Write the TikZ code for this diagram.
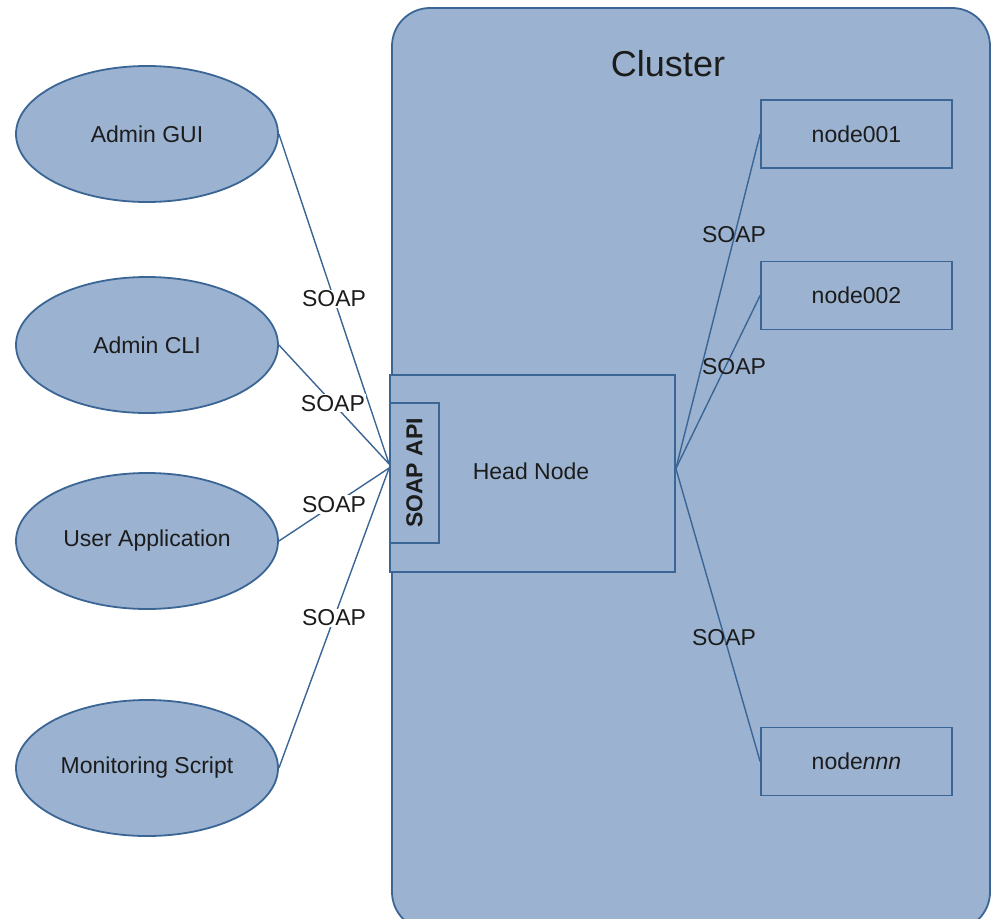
\documentclass[tikz,border=0pt]{standalone}
\usepackage{fontspec}
\setmainfont{Liberation Sans}
\usetikzlibrary{shapes.geometric}
\definecolor{boxfill}{HTML}{9BB3D1}
\definecolor{boxline}{HTML}{3A6595}
\definecolor{ink}{HTML}{1C1C1C}
\tikzset{
  base/.style={draw=boxline, fill=boxfill, line width=1.8pt, text=ink,
    font=\fontsize{23}{27}\selectfont, inner sep=0pt},
  client/.style={base, ellipse, minimum width=262pt, minimum height=136pt},
  worker/.style={base, rectangle, minimum width=191pt, minimum height=68pt},
  headbox/.style={base, rectangle, minimum width=285pt, minimum height=197pt},
  apibox/.style={base, rectangle, minimum width=49pt, minimum height=140pt},
  link/.style={draw=boxline, line width=1.4pt},
  soaplbl/.style={text=ink, font=\fontsize{23}{27}\selectfont, inner sep=1pt},
  soapcut/.style={soaplbl, fill=white},
}
\begin{document}
\begin{tikzpicture}[x=1pt, y=-1pt]
\useasboundingbox (0,0) rectangle (992,918);

% cluster enclosure
\draw[draw=boxline, fill=boxfill, line width=1.8pt, rounded corners=38pt]
  (392,8) rectangle (990,930);
\node[text=ink, font=\fontsize{36}{40}\selectfont] (title) at (668,64) {Cluster};

% head node with its API block
\node[headbox] (head) at (532.5,473.5) {};
\node[text=ink, font=\fontsize{23}{27}\selectfont] (headlbl) at (531,471) {Head Node};
\node[apibox] (api) at (414.5,473) {};
\node[text=ink, font=\bfseries\fontsize{23}{27}\selectfont, rotate=90] (apilbl) at (414.5,473) {SOAP API};

% compute nodes
\node[worker] (n1) at (856.5,134) {node001};
\node[worker] (n2) at (856.5,295.5) {node002};
\node[worker] (nn) at (856.5,761.5) {node\textit{nnn}};

% client programs
\node[client] (gui) at (147,134) {Admin GUI};
\node[client] (cli) at (147,345) {Admin CLI};
\node[client] (app) at (147,541) {User Application};
\node[client] (mon) at (147,768) {Monitoring Script};

% clients talk to the API
\draw[link] (gui.east) -- node[soapcut, pos=0.5] (s1) {SOAP} ([yshift=9pt]api.west);
\draw[link] (cli.east) -- node[soapcut, pos=0.49] (s2) {SOAP} ([yshift=9pt]api.west);
\draw[link] (app.east) -- node[soapcut, pos=0.5] (s3) {SOAP} ([yshift=5pt]api.west);
\draw[link] (mon.east) -- node[soapcut, pos=0.5] (s4) {SOAP} ([yshift=5pt]api.west);

% head node talks to compute nodes
\draw[link] ([yshift=5pt]head.east) -- (n1.west);
\draw[link] ([yshift=5pt]head.east) -- (n2.west);
\draw[link] ([yshift=5pt]head.east) -- (nn.west);
\node[soaplbl] (s5) at (734,235) {SOAP};
\node[soaplbl] (s6) at (734,367) {SOAP};
\node[soaplbl] (s7) at (724,638) {SOAP};
\end{tikzpicture}
\end{document}
